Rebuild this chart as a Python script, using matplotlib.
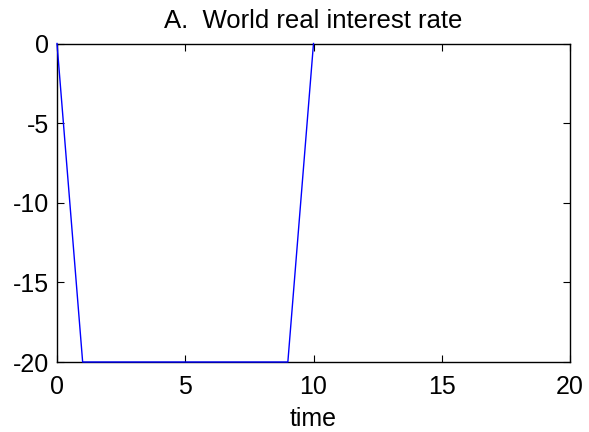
import numpy as np
import matplotlib
matplotlib.use("Agg")
import matplotlib.pyplot as plt

# world real interest rate path (percent deviation), visible part of the path
time = np.arange(0, 11)
rate = [0, -20, -20, -20, -20, -20, -20, -20, -20, -20, 0]

xticks = [0, 5, 10, 15, 20]
yticks = [0, -5, -10, -15, -20]

plt.rcParams['font.family'] = ['Liberation Sans', 'DejaVu Sans']
plt.rcParams['font.size'] = 18

fig = plt.figure(figsize=(5.89, 4.32), dpi=100)
ax = fig.add_axes([57/589, 1 - 362/432, (570 - 57)/589, (362 - 43.5)/432])
ax.plot(time, rate, color='blue', linewidth=1.0, zorder=3, clip_on=False)

ax.set_xlim(0, 20)
ax.set_ylim(-20, 0)
ax.set_xticks(xticks)
ax.set_yticks(yticks)
ax.set_yticklabels([str(v) for v in yticks])
ax.tick_params(direction='in', top=True, right=True, length=5, width=0.8)
ax.tick_params(axis='x', pad=9)
ax.tick_params(axis='y', pad=6)
for s in ax.spines.values():
    s.set_linewidth(1.0)

ax.set_xlabel('time', labelpad=6)
ax.set_title('A.  World real interest rate', fontsize=18.5, pad=11)

fig.savefig('out.png', dpi=100)
